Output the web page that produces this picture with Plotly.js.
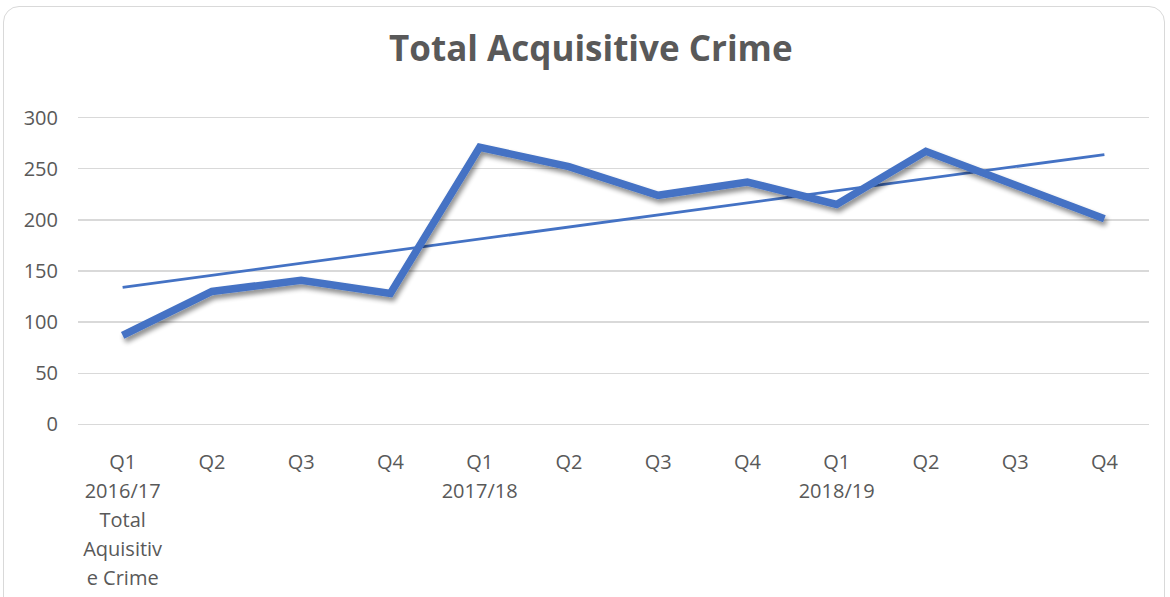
<!DOCTYPE html>
<html>
<head>
<meta charset="utf-8">
<script src="https://cdn.plot.ly/plotly-3.0.1.min.js"></script>
<style>
  html, body { margin: 0; padding: 0; background: #fff; }
  #wrap { position: relative; width: 1170px; height: 597px; overflow: hidden; }
  #frame { position: absolute; left: 3px; top: 6px; width: 1162px; height: 620px;
           border: 1.5px solid #d9d9d9; border-radius: 16px; box-sizing: border-box; pointer-events: none; }
  #chart { position: absolute; left: 0; top: 0; width: 1170px; height: 597px; }
</style>
</head>
<body>
<div id="wrap">
  <div id="chart"></div>
  <div id="frame"></div>
</div>
<svg width="0" height="0" style="position:absolute">
  <defs>
    <filter id="lineShadow" x="-10%" y="-20%" width="120%" height="140%">
      <feGaussianBlur in="SourceAlpha" stdDeviation="2.5"/>
      <feOffset dx="2" dy="4" result="off"/>
      <feComponentTransfer><feFuncA type="linear" slope="0.45"/></feComponentTransfer>
      <feMerge><feMergeNode/><feMergeNode in="SourceGraphic"/></feMerge>
    </filter>
  </defs>
</svg>
<script>
const quarters = ["Q1","Q2","Q3","Q4","Q1","Q2","Q3","Q4","Q1","Q2","Q3","Q4"];
const years = ["2016/17\nTotal\nAquisitiv\ne Crime","","","","2017/18","","","","2018/19","","",""];
const values = [87, 130, 141, 128, 271, 252, 224, 237, 215, 267, 234, 201];
const yTicks = [0, 50, 100, 150, 200, 250, 300];

const idx = values.map((v, i) => i);
const tickText = quarters.map((q, i) => years[i] ? q + "<br>" + years[i].split("\n").join("<br>") : q);

// Linear trendline (least squares), as in the source chart
const n = values.length;
const mx = idx.reduce((a, b) => a + b, 0) / n;
const my = values.reduce((a, b) => a + b, 0) / n;
let sxy = 0, sxx = 0;
idx.forEach((x, i) => { sxy += (x - mx) * (values[i] - my); sxx += (x - mx) * (x - mx); });
const slope = sxy / sxx;
const trend = idx.map(x => my + slope * (x - mx));

const blue = "#4472C4";
const grey = "#595959";
const font = "Open Sans, Liberation Sans, sans-serif";

const data = [
  { x: idx, y: trend, type: "scatter", mode: "lines", name: "Linear",
    line: { color: blue, width: 2.75 }, hoverinfo: "skip" },
  { x: idx, y: values, type: "scatter", mode: "lines", name: "Total Aquisitive Crime",
    line: { color: blue, width: 7.5, shape: "linear" } }
];

const layout = {
  width: 1170, height: 597,
  margin: { l: 78, r: 21, t: 114.5, b: 169.5 },
  paper_bgcolor: "rgba(0,0,0,0)", plot_bgcolor: "rgba(0,0,0,0)",
  showlegend: false,
  title: { text: "<b>Total Acquisitive Crime</b>", x: 0.505, xanchor: "center", y: 0.918, yanchor: "middle",
           font: { family: font, size: 35, color: grey } },
  xaxis: {
    range: [-0.5, 11.5], tickmode: "array", tickvals: idx, ticktext: tickText,
    showgrid: false, zeroline: false, showline: false, ticks: "",
    ticklabelstandoff: 21,
    tickfont: { family: font, size: 20, color: grey }, fixedrange: true
  },
  yaxis: {
    range: [-2.5, 302.5], tickmode: "array", tickvals: yTicks,
    showgrid: true, gridcolor: "#d9d9d9", gridwidth: 1.5,
    zeroline: false, showline: false, ticks: "",
    ticklabelstandoff: 19,
    tickfont: { family: font, size: 20, color: grey }, fixedrange: true
  }
};

Plotly.newPlot("chart", data, layout, { staticPlot: true, displayModeBar: false }).then(() => {
  document.querySelectorAll(".xtick text tspan.line").forEach(t => {
    const dy = t.getAttribute("dy");
    if (dy) {
      const v = parseFloat(dy);
      if (v > 0) t.setAttribute("dy", (v * 1.115) + "em");
    }
  });
  const lines = document.querySelectorAll(".scatterlayer .trace path.js-line");
  if (lines.length > 1) lines[1].setAttribute("filter", "url(#lineShadow)");
});
</script>
</body>
</html>
